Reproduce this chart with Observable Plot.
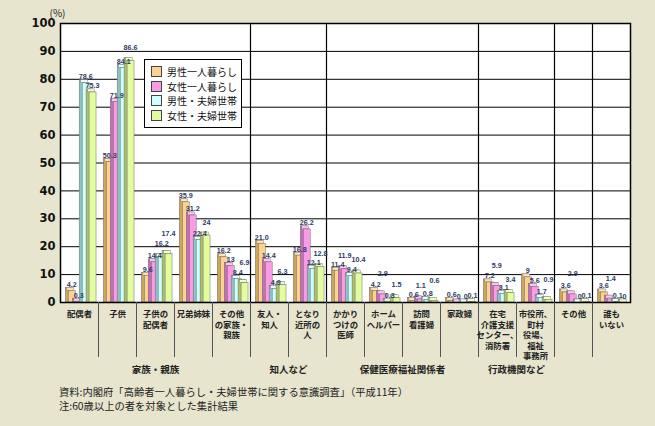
<!DOCTYPE html>
<html><head><meta charset="utf-8">
<script src="https://cdn.jsdelivr.net/npm/d3@7"></script>
<script src="https://cdn.jsdelivr.net/npm/@observablehq/plot@0.6"></script>
<style>
html,body{margin:0;padding:0;background:#e7e5cd;}
#wrap{position:relative;width:655px;height:426px;font-family:"Noto Sans CJK JP",sans-serif;}
#legend{position:absolute;left:144px;top:59px;width:96px;height:67px;background:#fff;border:1.5px solid #000;}
.row{position:absolute;left:6px;height:11px;display:flex;align-items:center;font-size:10px;color:#111;white-space:nowrap;line-height:11px;}
.sw{width:9px;height:9px;border:1px solid #444;margin-right:5px;flex:none;}
#foot{position:absolute;left:59px;top:385px;font-size:10.3px;line-height:13.5px;color:#222;white-space:nowrap;}
g[aria-label="y-axis tick label"]{font:bold 11.5px "DejaVu Sans",sans-serif;}
svg{display:block;}
</style></head><body><div id="wrap"></div>
<script>
// ---- data ----
const categories = ["配偶者","子供","子供の\n配偶者","兄弟姉妹","その他\nの家族・\n親族","友人・\n知人","となり\n近所の\n人","かかり\nつけの\n医師","ホーム\nヘルパー","訪問\n看護婦","家政婦","在宅\n介護支援\nセンター、\n消防署","市役所、\n町村\n役場、\n福祉\n事務所","その他","誰も\nいない"];
const groupNames = ["家族・親族","知人など","保健医療福祉関係者","行政機関など","",""];
const groupSizes = [5,2,4,2,1,1];
const seriesNames = ["男性一人暮らし","女性一人暮らし","男性・夫婦世帯","女性・夫婦世帯"];
const maleAlone    = ["4.2","50.3","9.6","35.9","16.2","21.0","16.8","11.4","4.2","0.6","0.6","7.2","9","3.6","3.6"];
const femaleAlone  = ["0.3","71.9","14.4","31.2","13","14.4","26.2","11.9","2.9","1.1","0","5.9","5.6","2.9","1.4"];
const maleCouple   = ["78.6","84.1","16.2","22.4","8.4","4.9","12.1","9.4","0.3","0.8","0","3.1","1.7","0","0.1"];
const femaleCouple = ["75.3","86.6","17.4","24","6.9","6.3","12.8","10.4","1.5","0.6","0.1","3.4","0.9","0.1","0"];
const yTicks = [0,10,20,30,40,50,60,70,80,90,100];
const gridTicks = [10,20,30,40,50,60,70,80,90];
const sourceNote = "資料:内閣府「高齢者一人暮らし・夫婦世帯に関する意識調査」（平成11年）";
const footNote = "注:60歳以上の者を対象とした集計結果";

// ---- styling / layout ----
const seriesValues = [maleAlone, femaleAlone, maleCouple, femaleCouple];
const frontColors = ["#fbd38f","#fb9be6","#ccffff","#e4fca0"];
const sideColors  = ["#cfa35a","#c96cb8","#8fc2c2","#aec26a"];
const capColors   = ["#fde4b8","#fdc6f0","#e8ffff","#f1ffc9"];
const W = 655, H = 378, mt = 23, mb = 76, ml = 60, mr = 25;
const bw = (W - ml - mr) / categories.length;
const depth = 3, barW = bw * 0.182, lead = bw * 0.22;
const plotH = H - mt - mb;
const labelFont = "bold 7.2px 'Liberation Sans', Arial, sans-serif";

// value-label stacking so that neighbouring labels do not collide
const ctx = document.createElement("canvas").getContext("2d");
ctx.font = labelFont;
const rows = seriesValues.map(() => []);
categories.forEach((c, j) => {
  const placed = [];
  seriesValues.forEach((vals, i) => {
    const v = +vals[j];
    const w = ctx.measureText(vals[j]).width;
    const cx = bw * j + lead + barW * i + barW / 2 - depth / 2 + 1;
    const bottom = plotH * (1 - v / 100) - depth - 1;
    let lift = 0;
    for (let k = 0; k < 6; k++) {
      lift = k * 7;
      const r = {l: cx - w / 2, r: cx + w / 2, b: bottom - lift, t: bottom - lift - 7.5};
      if (!placed.some(p => r.l < p.r - 0.2 && p.l < r.r - 0.2 && r.t < p.b - 0.2 && p.t < r.b - 0.2)) { placed.push(r); break; }
    }
    rows[i].push({cat: c, v, label: vals[j], ly: v + lift * 100 / plotH});
  });
});

const marks = [
  Plot.frame({fill: "white", stroke: null}),
  Plot.gridY(gridTicks, {stroke: "#000", strokeOpacity: 1, strokeWidth: 1})
];
let acc = 0; const boundaries = [], groupStarts = [];
groupSizes.forEach((s, i) => { groupStarts.push(acc); acc += s; if (i < groupSizes.length - 1) boundaries.push(categories[acc - 1]); });
marks.push(Plot.ruleX(boundaries, {dx: bw / 2, stroke: "#000", strokeWidth: 1.2}));

rows.forEach((data, i) => {
  const L = lead + barW * i, R = bw - L - barW;
  marks.push(Plot.barY(data, {x: "cat", y: "v", insetLeft: L - depth, insetRight: R + depth, insetTop: -depth, fill: sideColors[i], stroke: "#6b6b6b", strokeWidth: 0.5}));
  marks.push(Plot.barY(data, {x: "cat", y1: "v", y2: "v", insetLeft: L - depth / 2, insetRight: R + depth / 2, insetTop: -depth, fill: capColors[i], stroke: "#6b6b6b", strokeWidth: 0.4}));
  marks.push(Plot.barY(data, {x: "cat", y: "v", insetLeft: L, insetRight: R, fill: frontColors[i], stroke: "#6b6b6b", strokeWidth: 0.5}));
});
marks.push(Plot.frame({stroke: "#000", strokeWidth: 1.5}));

rows.forEach((data, i) => {
  const L = lead + barW * i;
  marks.push(Plot.text(data, {x: "cat", y: "ly", text: "label", dx: L + barW / 2 - depth / 2 - bw / 2 + 1, dy: -depth - 1, lineAnchor: "bottom", fontSize: 7.2, fontFamily: "Liberation Sans, Arial, sans-serif", fontWeight: "bold", fill: "#2d3b63"}));
});

marks.push(Plot.ruleX(categories.slice(0, -1), {dx: bw / 2, insetTop: plotH, insetBottom: -55, stroke: "#555", strokeWidth: 1}));
marks.push(Plot.text(categories, {x: d => d, text: d => d, frameAnchor: "bottom", dy: 7, lineAnchor: "top", lineHeight: 1.26, fontSize: 8.4, fontWeight: "bold", fill: "#222", ariaLabel: "cat-labels"}));
groupNames.forEach((g, i) => {
  if (!g) return;
  marks.push(Plot.text([g], {x: () => categories[groupStarts[i]], text: d => d, frameAnchor: "bottom", dx: (groupSizes[i] - 1) * bw / 2, dy: 67.5, lineAnchor: "middle", fontSize: 9.5, fontWeight: "bold", fill: "#222"}));
});
marks.push(Plot.axisY({ticks: yTicks, tickSize: 0, tickPadding: 5, label: null, fill: "#111"}));
marks.push(Plot.text(["(%)"], {frameAnchor: "top-left", textAnchor: "middle", dx: -3, dy: -14, fontSize: 10, fill: "#222"}));

const chart = Plot.plot({
  width: W, height: H, marginTop: mt, marginBottom: mb, marginLeft: ml, marginRight: mr,
  style: {background: "transparent", fontFamily: "'Noto Sans CJK JP', sans-serif"},
  x: {type: "band", domain: categories, padding: 0, axis: null},
  y: {domain: [0, 100], label: null},
  marks
});
const wrap = document.getElementById("wrap");
wrap.appendChild(chart);

// left-align lines inside each centered category label block
d3.select(chart).selectAll('g[aria-label="cat-labels"] text').each(function () {
  const spans = this.querySelectorAll("tspan");
  if (!spans.length) return;
  let mw = 0; spans.forEach(s => { mw = Math.max(mw, s.getComputedTextLength()); });
  this.setAttribute("text-anchor", "start");
  this.style.textAnchor = "start";
  spans.forEach(s => s.setAttribute("x", -mw / 2));
});

// legend
const lg = document.createElement("div"); lg.id = "legend";
seriesNames.forEach((n, i) => {
  const r = document.createElement("div"); r.className = "row"; r.style.top = (6 + 14.6 * i) + "px";
  const sw = document.createElement("span"); sw.className = "sw"; sw.style.background = frontColors[i];
  const t = document.createElement("span"); t.textContent = n;
  r.appendChild(sw); r.appendChild(t); lg.appendChild(r);
});
wrap.appendChild(lg);
const ft = document.createElement("div"); ft.id = "foot";
[sourceNote, footNote].forEach(s => { const p = document.createElement("div"); p.textContent = s; ft.appendChild(p); });
wrap.appendChild(ft);
</script></body></html>
